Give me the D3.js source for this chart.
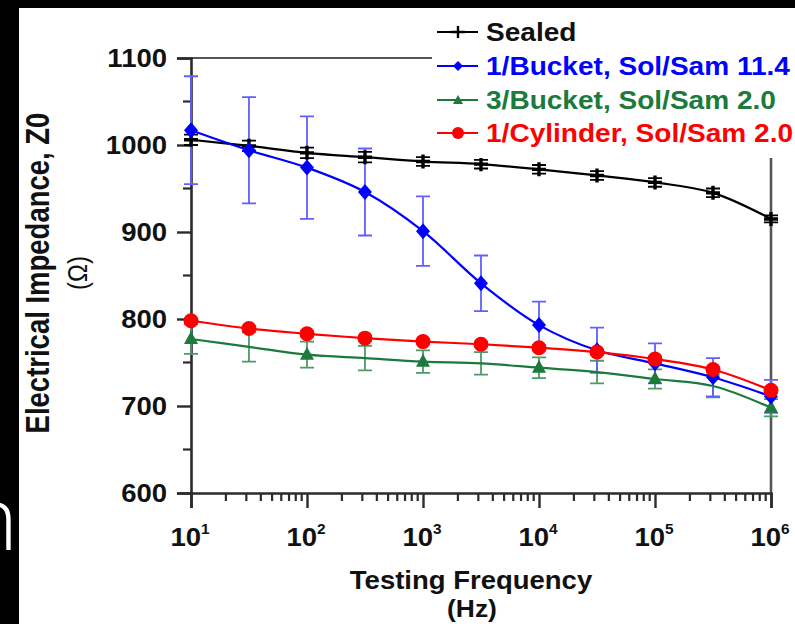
<!DOCTYPE html>
<html>
<head>
<meta charset="utf-8">
<script src="https://cdn.jsdelivr.net/npm/d3@7"></script>
<style>
  html, body { margin: 0; padding: 0; background: #000; }
  svg { display: block; }
  text { font-family: "Liberation Sans", Arial, sans-serif; font-weight: bold; }
</style>
</head>
<body>
<svg id="chart" width="795" height="624"></svg>
<script>
// Testing frequencies (Hz), half-decade steps
const frequencies = [10, 31.6, 100, 316, 1000, 3162, 10000, 31623, 100000, 316228, 1000000];

// Electrical impedance Z0 (Ohm) and error bars for each specimen set
const sealed      = [1006, 999, 991, 986, 981, 978, 972, 965, 957, 945, 915];
const sealedErr   = [6, 6, 6, 6, 5, 5, 5, 5, 5, 5, 4];
const bucket11    = [1017, 994, 974, 946, 901, 841, 793, 764, 749, 733, 711];
const bucket11Err = [62, 61, 59, 50, 40, 32, 27, 26, 23, 22, 19];
const bucket3     = [777, 768, 759, 755, 751, 749, 744, 739, 731, 723, 698];
const bucket3Err  = [17, 17, 15, 14, 13, 13, 12, 13, 11, 13, 10];
const cylinder    = [798, 789, 783, 778, 774, 771, 767, 762, 754, 742, 718];
const cylinderErr = [3, 3, 3, 3, 3, 3, 3, 3, 3, 3, 3];

const seriesNames = ["Sealed", "1/Bucket, Sol/Sam 11.4", "3/Bucket, Sol/Sam 2.0", "1/Cylinder, Sol/Sam 2.0"];
const yTicks = [600, 700, 800, 900, 1000, 1100];
const yMinorTicks = [650, 750, 850, 950, 1050];
const xDecades = [1, 2, 3, 4, 5, 6];

const series = [
  { name: seriesNames[0], values: sealed,   err: sealedErr,   color: "#000000", errColor: "#000000", marker: "plus",     every: 1 },
  { name: seriesNames[2], values: bucket3,  err: bucket3Err,  color: "#1b7a3c", errColor: "#4d9a68", marker: "triangle", every: 2 },
  { name: seriesNames[1], values: bucket11, err: bucket11Err, color: "#0000ff", errColor: "#6060ff", marker: "diamond",  every: 1 },
  { name: seriesNames[3], values: cylinder, err: cylinderErr, color: "#ff0000", errColor: "#ff5050", marker: "circle",   every: 1 }
];
const legendOrder = [0, 2, 1, 3];

// the lettering is set slightly wide
const WIDE = 1.1;
function widen(sel, sx) {
  sel.each(function () {
    const t = d3.select(this);
    const tx = +t.attr("x") || 0, ty = +t.attr("y") || 0;
    t.attr("x", 0).attr("y", 0).attr("transform", `translate(${tx},${ty}) scale(${sx},1)`);
  });
  return sel;
}

const svg = d3.select("#chart");

// paper area
svg.append("rect").attr("x", 19).attr("y", 8).attr("width", 776).attr("height", 616).attr("fill", "#fff");

// stray slide text at the left edge
svg.append("text").attr("x", -34).attr("y", 550)
  .style("font-family", "'Open Sans', sans-serif").style("font-weight", 300)
  .style("font-size", "88px").attr("fill", "#fff").text("n");

const x = d3.scaleLog().domain([10, 1e6]).range([191, 771]);
const y = d3.scaleLinear().domain([600, 1100]).range([493, 58]);

const axisColor = "#2b2b2b";

// frame (top and right)
svg.append("line").attr("x1", x(10)).attr("x2", x(1e6)).attr("y1", y(1100)).attr("y2", y(1100))
  .attr("stroke", "#555").attr("stroke-width", 2.2);
svg.append("line").attr("x1", x(1e6)).attr("x2", x(1e6)).attr("y1", y(1100)).attr("y2", y(600))
  .attr("stroke", "#555").attr("stroke-width", 2.6);

// Y axis
const yAxis = svg.append("g").attr("transform", `translate(${x(10)},0)`)
  .call(d3.axisLeft(y).tickValues(yTicks).tickSize(14).tickPadding(10).tickFormat(d3.format("d")));
yAxis.select(".domain").attr("stroke", axisColor).attr("stroke-width", 2.6);
yAxis.selectAll(".tick line").attr("stroke", axisColor).attr("stroke-width", 2.4);
yAxis.selectAll(".tick text").attr("fill", "#111").style("font-size", "25px")
  .style("font-family", "'Liberation Sans', Arial, sans-serif").style("font-weight", "bold");
widen(yAxis.selectAll(".tick text"), WIDE);
svg.append("g").selectAll("line").data(yMinorTicks).join("line")
  .attr("x1", x(10) - 8).attr("x2", x(10)).attr("y1", d => y(d)).attr("y2", d => y(d))
  .attr("stroke", axisColor).attr("stroke-width", 2.2);

// X axis
const xAxis = svg.append("g").attr("transform", `translate(0,${y(600)})`)
  .call(d3.axisBottom(x).tickValues(xDecades.map(p => Math.pow(10, p))).tickSize(15).tickFormat(""));
xAxis.select(".domain").attr("stroke", axisColor).attr("stroke-width", 2.6);
xAxis.selectAll(".tick line").attr("stroke", axisColor).attr("stroke-width", 2.4);
const minor = [];
xDecades.slice(0, -1).forEach(p => { for (let m = 2; m <= 9; m++) minor.push(m * Math.pow(10, p)); });
svg.append("g").selectAll("line").data(minor).join("line")
  .attr("x1", d => x(d)).attr("x2", d => x(d)).attr("y1", y(600)).attr("y2", y(600) + 8)
  .attr("stroke", axisColor).attr("stroke-width", 2.2);
const xl = svg.append("g").selectAll("text").data(xDecades).join("text")
  .attr("x", d => x(Math.pow(10, d)) - 1).attr("y", 546).attr("text-anchor", "middle")
  .attr("fill", "#111").style("font-size", "25px");
xl.append("tspan").text("10");
xl.append("tspan").attr("dy", -12).style("font-size", "14px").text(d => d);
widen(xl, WIDE);

// axis titles
widen(svg.append("text").attr("x", 471).attr("y", 589).attr("text-anchor", "middle").attr("fill", "#111")
  .style("font-size", "25px").text("Testing Frequency"), WIDE);
widen(svg.append("text").attr("x", 472).attr("y", 617).attr("text-anchor", "middle").attr("fill", "#111")
  .style("font-size", "24px").text("(Hz)"), WIDE);
svg.append("text").attr("transform", "translate(49,273) scale(1.2,1) rotate(-90)").attr("text-anchor", "middle").attr("fill", "#111")
  .style("font-size", "27.5px").text("Electrical Impedance, Z0");
svg.append("text").attr("transform", "translate(87,273) scale(1.15,1) rotate(-90)").attr("text-anchor", "middle").attr("fill", "#111")
  .style("font-size", "24px").style("font-weight", "normal").text("(Ω)");

const plot = svg.append("g");
const line = d3.line().x((d, i) => x(frequencies[i])).y(d => y(d)).curve(d3.curveCatmullRom.alpha(0.5));

function drawMarker(g, type, cx, cy, color) {
  if (type === "plus") {
    g.append("path").attr("d", `M${cx - 7},${cy}H${cx + 7}M${cx},${cy - 7}V${cy + 7}`)
      .attr("stroke", color).attr("stroke-width", 3.4);
  } else if (type === "diamond") {
    g.append("path").attr("d", `M${cx},${cy - 8}L${cx + 7},${cy}L${cx},${cy + 8}L${cx - 7},${cy}Z`).attr("fill", color);
  } else if (type === "triangle") {
    g.append("path").attr("d", `M${cx},${cy - 8}L${cx + 7},${cy + 5}L${cx - 7},${cy + 5}Z`).attr("fill", color);
  } else {
    g.append("circle").attr("cx", cx).attr("cy", cy).attr("r", 7.5).attr("fill", color);
  }
}

// error bars
series.forEach(s => {
  const g = plot.append("g").attr("stroke", s.errColor).attr("stroke-width", 1.8).attr("fill", "none");
  s.values.forEach((v, i) => {
    const cx = x(frequencies[i]);
    const t = y(v + s.err[i]), b = y(v - s.err[i]);
    g.append("path").attr("d", `M${cx},${t}V${b}M${cx - 7},${t}H${cx + 7}M${cx - 7},${b}H${cx + 7}`);
  });
});

// lines and markers
series.forEach(s => {
  plot.append("path").datum(s.values).attr("d", line).attr("fill", "none")
    .attr("stroke", s.color).attr("stroke-width", 2.2);
});
series.forEach(s => {
  const g = plot.append("g");
  s.values.forEach((v, i) => {
    if (i % s.every === 0) drawMarker(g, s.marker, x(frequencies[i]), y(v), s.color);
  });
});

// legend
const legend = svg.append("g");
legend.append("rect").attr("x", 432).attr("y", 8).attr("width", 363).attr("height", 150).attr("fill", "#fff");
const rowY = [32, 66, 100, 133];
legendOrder.forEach((si, r) => {
  const s = series[si];
  const yy = rowY[r];
  legend.append("line").attr("x1", 437).attr("x2", 478).attr("y1", yy).attr("y2", yy)
    .attr("stroke", s.color).attr("stroke-width", 2.2);
  const g = legend.append("g");
  if (s.marker === "plus") {
    g.append("path").attr("d", `M451,${yy}H465M458,${yy - 6}V${yy + 6}`).attr("stroke", s.color).attr("stroke-width", 2.4);
  } else if (s.marker === "diamond") {
    g.append("path").attr("d", `M458,${yy - 5}L463,${yy}L458,${yy + 5}L453,${yy}Z`).attr("fill", s.color);
  } else if (s.marker === "triangle") {
    g.append("path").attr("d", `M458,${yy - 5}L463,${yy + 4}L453,${yy + 4}Z`).attr("fill", s.color);
  } else {
    g.append("circle").attr("cx", 458).attr("cy", yy).attr("r", 6).attr("fill", s.color);
  }
  widen(legend.append("text").attr("x", 486).attr("y", yy + 9).attr("fill", s.color === "#000000" ? "#111" : s.color)
    .style("font-size", "25.5px").text(s.name), WIDE);
});
</script>
</body>
</html>
